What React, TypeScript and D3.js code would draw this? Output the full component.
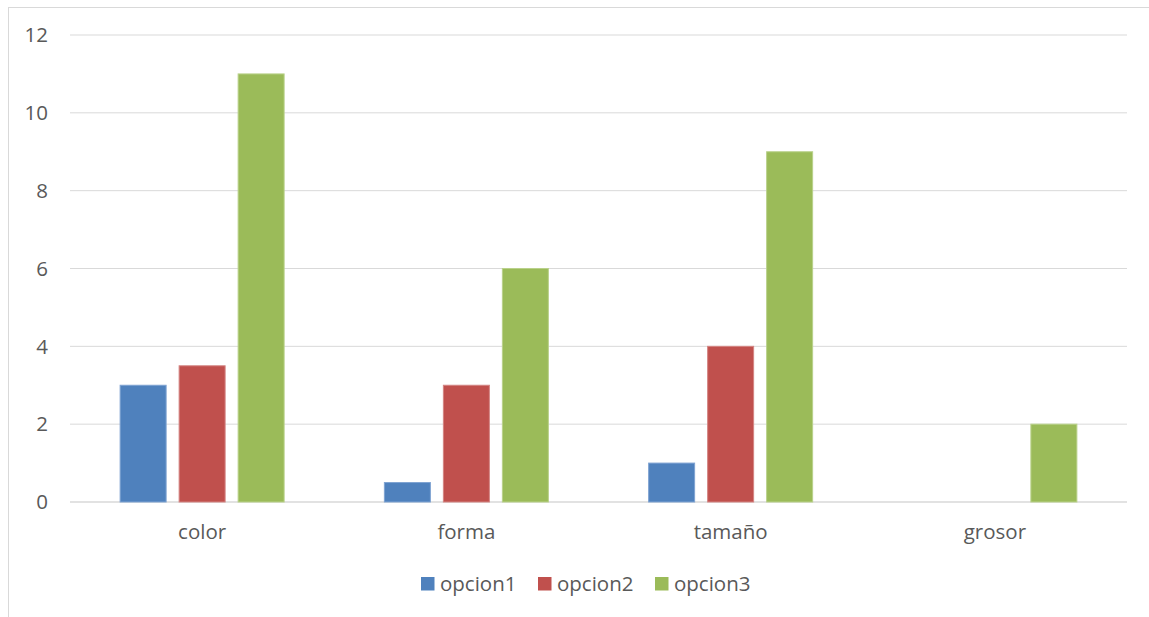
import React from "react";
import * as d3 from "d3";

// Category labels and series values
const categories = ["color", "forma", "tamaño", "grosor"];
const seriesNames = ["opcion1", "opcion2", "opcion3"];
const opcion1 = [3, 0.5, 1, 0];
const opcion2 = [3.5, 3, 4, 0];
const opcion3 = [11, 6, 9, 2];
const yTicks = [0, 2, 4, 6, 8, 10, 12];

const seriesValues = [opcion1, opcion2, opcion3];
const colors = ["#4F81BD", "#C0504D", "#9BBB59"];
const strokes = ["#7FA3D2", "#D48583", "#B9D18A"];

const W = 1149;
const H = 617;
const FONT = "'Open Sans', Lato, sans-serif";
const FS = 20.5;

export default function App() {
  const left = 70;
  const right = 1127;
  const top = 35;
  const bottom = 502;

  const x0 = d3.scaleBand<string>().domain(categories).range([left, right]).paddingInner(0).paddingOuter(0);
  const y = d3.scaleLinear().domain([0, 12]).range([bottom, top]);

  const barW = 46;
  const gap = 13;
  const groupW = barW * 3 + gap * 2;

  const legendX = [421, 538, 655];

  return (
    <div style={{ position: "absolute", left: 0, top: 0 }}>
      <svg width={W} height={H} style={{ display: "block", background: "#fff" }}>
        <rect x={8.5} y={7.5} width={W} height={H} fill="#fff" stroke="#D9D9D9" strokeWidth={1} />
        {yTicks.map((t) => (
          <g key={t}>
            <line x1={left} x2={right} y1={y(t)} y2={y(t)} stroke="#D9D9D9" strokeWidth={t === 0 ? 1.5 : 1} />
            <text x={48} y={y(t)} dy="0.35em" textAnchor="end" fontFamily={FONT} fontSize={FS} fill="#595959">
              {t}
            </text>
          </g>
        ))}
        {categories.map((c, i) => {
          const cx = (x0(c) as number) + x0.bandwidth() / 2;
          const start = cx - groupW / 2;
          return (
            <g key={c}>
              {seriesValues.map((vals, s) =>
                vals[i] > 0 ? (
                  <rect
                    key={s}
                    x={start + s * (barW + gap)}
                    y={y(vals[i])}
                    width={barW}
                    height={y(0) - y(vals[i])}
                    fill={colors[s]}
                    stroke={strokes[s]}
                    strokeWidth={1}
                  />
                ) : null
              )}
              <text x={cx} y={539} textAnchor="middle" fontFamily={FONT} fontSize={FS} fill="#595959">
                {c}
              </text>
            </g>
          );
        })}
        {seriesNames.map((n, s) => (
          <g key={n}>
            <rect x={legendX[s]} y={577} width={13.5} height={13.5} fill={colors[s]} />
            <text x={legendX[s] + 19} y={584} dy="0.35em" fontFamily={FONT} fontSize={FS} fill="#595959">
              {n}
            </text>
          </g>
        ))}
      </svg>
    </div>
  );
}
